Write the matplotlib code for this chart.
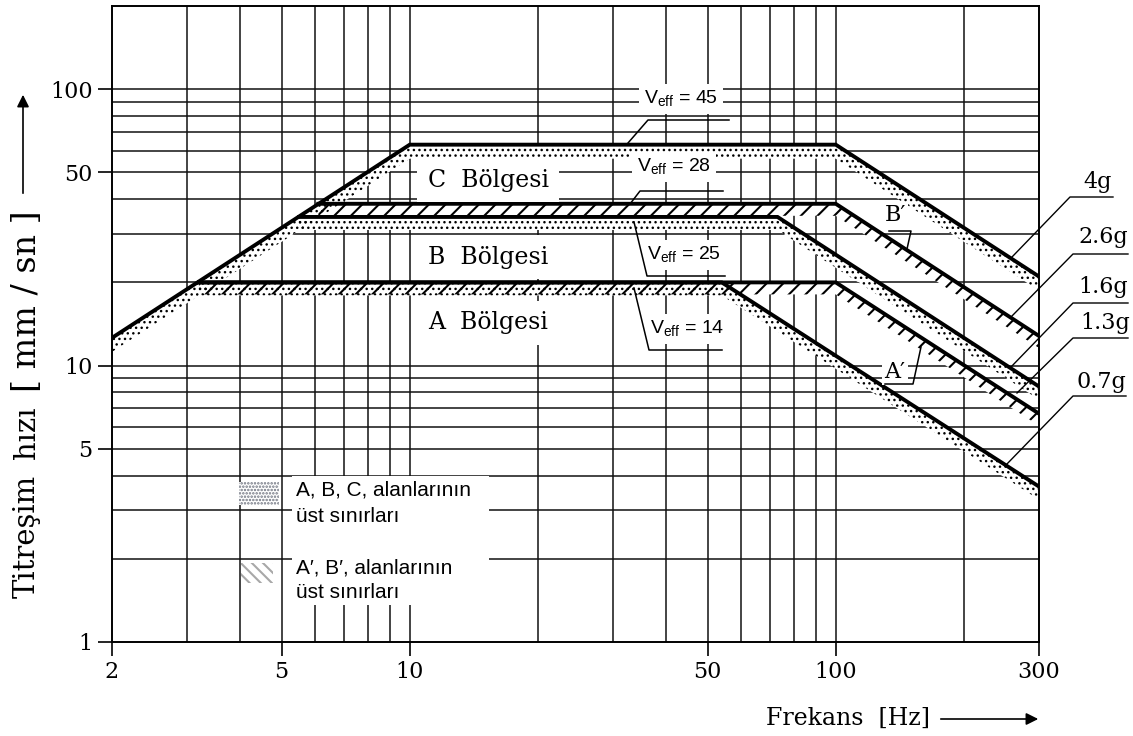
import numpy as np
import matplotlib
matplotlib.use('Agg')
import matplotlib.pyplot as plt
from matplotlib.patches import Rectangle
from matplotlib.ticker import NullLocator

plt.rcParams['hatch.linewidth'] = 1.5
plt.rcParams['mathtext.fontset'] = 'custom'
plt.rcParams['mathtext.rm'] = 'Liberation Sans'

# axes
freq_ticks = [2, 5, 10, 50, 100, 300]
vel_ticks = [1, 5, 10, 50, 100]
freq_grid = [3, 4, 5, 6, 7, 8, 9, 10, 20, 30, 40, 50, 60, 70, 80, 90, 100, 200]
vel_grid = [2, 3, 4, 5, 6, 7, 8, 9, 10, 20, 30, 40, 50, 60, 70, 80, 90, 100]

# region boundaries: frequency [Hz], velocity [mm/sn]
c_freq = [2, 10, 100, 300]        # C, 4g
c_vel = [12.6, 63, 63, 21]
bp_freq = [6.1, 100, 300]         # B', 2.6g
bp_vel = [38.5, 38.5, 12.8]
b_freq = [5.5, 73, 300]           # B, 1.6g
b_vel = [34.5, 34.5, 8.4]
ap_freq = [3.2, 100, 300]         # A', 1.3g
ap_vel = [20, 20, 6.7]
a_freq = [3.2, 54, 300]           # A, 0.7g
a_vel = [20, 20, 3.65]

region_labels = ['C  Bölgesi', 'B  Bölgesi', 'A  Bölgesi']
veff_labels = ['45', '28', '25', '14']
accel_labels = ['4g', '2.6g', '1.6g', '1.3g', '0.7g']

W, H = 1133, 736
SERIF = 'DejaVu Serif'
SANS = ['Liberation Sans', 'DejaVu Sans']

fig = plt.figure(figsize=(W / 100, H / 100), dpi=100)
ax = fig.add_axes([112 / W, 1 - 642 / H, 927 / W, 636 / H])
ax.set_xscale('log')
ax.set_yscale('log')
ax.set_xlim(2, 300)
ax.set_ylim(1, 200)


def af(px, py):
    # pixel position -> axes fraction
    return (px - 112) / 927, (642 - py) / 636


# grid
ax.vlines(freq_grid, 1, 200, color='#111111', lw=1.1, zorder=1)
ax.hlines(vel_grid, 2, 300, color='#111111', lw=1.1, zorder=1)

ax.set_xticks(freq_ticks)
ax.set_xticklabels([str(t) for t in freq_ticks])
ax.set_yticks(vel_ticks)
ax.set_yticklabels([str(t) for t in vel_ticks])
ax.xaxis.set_minor_locator(NullLocator())
ax.yaxis.set_minor_locator(NullLocator())
ax.tick_params(direction='out', length=10, width=1.2, labelsize=16, pad=4)
for lab in ax.get_xticklabels() + ax.get_yticklabels():
    lab.set_family(SERIF)
for sp in ax.spines.values():
    sp.set_linewidth(1.4)

# bands under each boundary
bands = [
    (c_freq, c_vel, 14, '...'),
    (bp_freq, bp_vel, 12, '//'),
    (b_freq, b_vel, 13, '...'),
    (a_freq, a_vel, 13, '...'),
    (ap_freq, ap_vel, 12, '//'),
]
for fr, vl, px, hatch in bands:
    k = 10 ** (px / 276)
    ax.fill_between(fr, np.array(vl) / k, vl, facecolor='white',
                    edgecolor='none', linewidth=0, zorder=2)
for fr, vl, px, hatch in bands:
    k = 10 ** (px / 276)
    hlw = 1.0 if hatch == '...' else 1.5
    with plt.rc_context({'hatch.linewidth': hlw}):
        pc = ax.fill_between(fr, np.array(vl) / k, vl, facecolor='none', hatch=hatch,
                             edgecolor='black', linewidth=0, zorder=2.2)
    if hasattr(pc, 'set_hatch_linewidth'):
        pc.set_hatch_linewidth(hlw)

for fr, vl in [(c_freq, c_vel), (bp_freq, bp_vel), (b_freq, b_vel),
               (ap_freq, ap_vel), (a_freq, a_vel)]:
    ax.plot(fr, vl, color='black', lw=2.8, zorder=3, solid_joinstyle='miter')

# region names
box = dict(boxstyle='square,pad=0.45', fc='white', ec='none')
for lab, py in zip(region_labels, [180, 257, 323]):
    ax.text(*af(488, py), lab, transform=ax.transAxes, ha='center', va='center',
            fontsize=17, family=SERIF, bbox=box, zorder=4)

# V_eff labels and leaders
veff_pos = [(644, 99), (637, 167), (647, 255), (650, 329)]
veff_lead = [
    [(729, 120), (648, 120), (628, 143)],
    [(723, 191), (640, 191), (630, 204)],
    [(634, 222), (647, 276), (725, 276)],
    [(634, 288), (649, 350), (722, 350)],
]
sbox = dict(boxstyle='square,pad=0.25', fc='white', ec='none')
for lab, (px, py), lead in zip(veff_labels, veff_pos, veff_lead):
    ax.text(*af(px, py), r'V$_{\mathrm{eff}}$ = ' + lab, transform=ax.transAxes,
            ha='left', va='center', fontsize=14, family=SANS, bbox=sbox, zorder=4)
    pts = [af(x, y) for x, y in lead]
    ax.plot([p[0] for p in pts], [p[1] for p in pts], transform=ax.transAxes,
            color='black', lw=1.1, zorder=5)

# B' and A' marks
for lab, (px, py), lead in [
        ("B′", (895, 215), [(889, 231), (911, 231), (907, 249)]),
        ("A′", (895, 372), [(885, 384), (913, 384), (921, 347)])]:
    ax.text(*af(px, py), lab, transform=ax.transAxes, ha='center', va='center',
            fontsize=16, family=SERIF,
            bbox=dict(boxstyle='square,pad=0.1', fc='white', ec='none'), zorder=4)
    pts = [af(x, y) for x, y in lead]
    ax.plot([p[0] for p in pts], [p[1] for p in pts], transform=ax.transAxes,
            color='black', lw=1.1, zorder=5)

# acceleration labels on the right
acc_text = [(1083, 182), (1078, 237), (1078, 287), (1080, 323), (1076, 382)]
acc_lead = [
    [(1113, 197), (1070, 197), (1012, 257)],
    [(1128, 254), (1073, 254), (1010, 318)],
    [(1128, 303), (1073, 303), (1010, 368)],
    [(1128, 338), (1073, 338), (1017, 393)],
    [(1126, 396), (1073, 396), (1005, 466)],
]
for lab, (px, py), lead in zip(accel_labels, acc_text, acc_lead):
    ax.text(*af(px, py), lab, transform=ax.transAxes, ha='left', va='center',
            fontsize=16, family=SERIF, clip_on=False)
    pts = [af(x, y) for x, y in lead]
    ax.plot([p[0] for p in pts], [p[1] for p in pts], transform=ax.transAxes,
            color='black', lw=1.0, clip_on=False, zorder=5)

# legend block
x0, y0 = af(292, 605)
x1, y1 = af(489, 476)
ax.add_patch(Rectangle((x0, y0), x1 - x0, y1 - y0, transform=ax.transAxes,
                       fc='white', ec='none', zorder=3.5))
sx0, sy0 = af(239, 505)
sx1, sy1 = af(279, 482)
with plt.rc_context({'hatch.linewidth': 1.2}):
    ax.add_patch(Rectangle((sx0, sy0), sx1 - sx0, sy1 - sy0, transform=ax.transAxes,
                           fc='white', ec='#6f7480', lw=0, hatch='.....', zorder=4))
hx0, hy0 = af(241, 583)
hx1, hy1 = af(273, 563)
ax.add_patch(Rectangle((hx0, hy0), hx1 - hx0, hy1 - hy0, transform=ax.transAxes,
                       fc='white', ec='#a8a8a8', lw=0, hatch='\\\\\\', zorder=4))
for txt, py in [('A, B, C, alanlarının', 490), ('üst sınırları', 517),
                ('A′, B′, alanlarının', 568), ('üst sınırları', 592)]:
    ax.text(*af(296, py), txt, transform=ax.transAxes, ha='left', va='center',
            fontsize=15, family=SANS, zorder=5)

# axis titles with arrows
for txt, py, fs in [('Titreşim', 536, 21), ('hızı', 433, 21), ('[ mm / sn ]', 301, 24)]:
    fig.text(27 / W, 1 - py / H, txt, rotation=90, ha='center', va='center',
             fontsize=fs, family=SERIF)
fig.text(930 / W, 1 - 718 / H, 'Frekans  [Hz]', ha='right', va='center',
         fontsize=17, family=SERIF)
ax.annotate('', xy=(23 / W, 1 - 92 / H), xytext=(23 / W, 1 - 196 / H),
            xycoords='figure fraction', textcoords='figure fraction',
            arrowprops=dict(arrowstyle='-|>', color='black', lw=1.2, mutation_scale=18))
ax.annotate('', xy=(1041 / W, 1 - 719 / H), xytext=(938 / W, 1 - 719 / H),
            xycoords='figure fraction', textcoords='figure fraction',
            arrowprops=dict(arrowstyle='-|>', color='black', lw=1.2, mutation_scale=18))

fig.savefig('out.png', dpi=100, facecolor='white')
